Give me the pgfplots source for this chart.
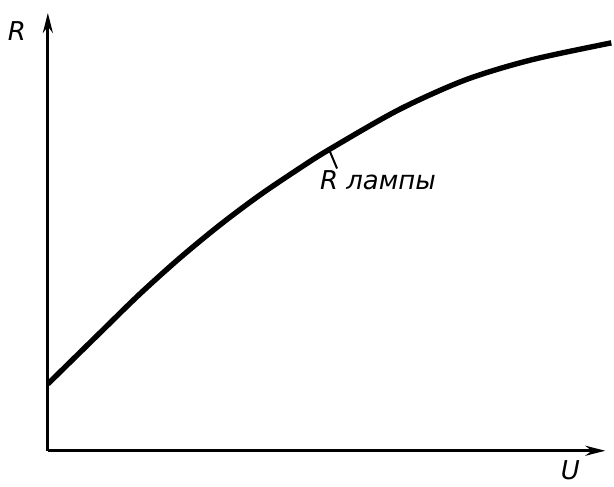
\documentclass[border=0pt]{standalone}
\usepackage{fontspec}
\setmainfont{DejaVu Sans}
\usepackage{pgfplots}
\pgfplotsset{compat=1.18}
\usetikzlibrary{arrows.meta}

\begin{document}
\begin{tikzpicture}
\begin{axis}[
  x=0.5pt, y=0.5pt,
  xmin=0, xmax=559, ymin=0, ymax=439,
  axis lines=left,
  axis line style={line width=1.5pt, -{Stealth[length=10pt,width=5pt]}},
  xtick=\empty, ytick=\empty,
  clip=false,
]
% R lamp vs U (pixel-like units)
\addplot[black, line width=2.7pt, smooth, tension=0.5] coordinates {
  (0,67) (52,118) (92,157) (132,193) (172,226) (212,256) (252,283)
  (282,302) (352,342) (419,372) (485,392) (565,409)
};
\node[font=\fontsize{13}{15}\selectfont\itshape] at (axis cs:-31,421) {R};
\node[font=\fontsize{13}{15}\selectfont\itshape] at (axis cs:524,-20) {U};
\node[font=\fontsize{13}{15}\selectfont\itshape] at (axis cs:331,271) {R лампы};
\draw[line width=1pt] (axis cs:282,302) -- (axis cs:290,283);
\path (axis cs:-48,-28) rectangle (axis cs:566,452);
\end{axis}
\end{tikzpicture}
\end{document}
